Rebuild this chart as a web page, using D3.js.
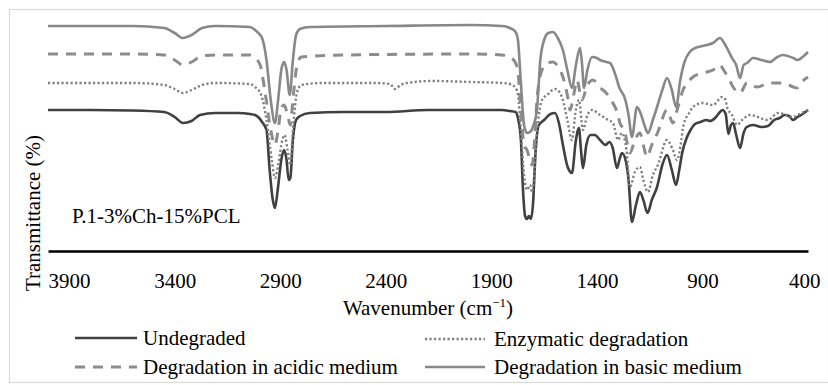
<!DOCTYPE html>
<html>
<head>
<meta charset="utf-8">
<script src="https://cdn.jsdelivr.net/npm/d3@7"></script>
<style>
  html, body { margin: 0; padding: 0; background: #fff; }
  svg { display: block; }
</style>
</head>
<body>
<svg id="chart" width="828" height="385" font-family="'Liberation Serif', 'DejaVu Serif', serif"></svg>
<script>
// ---------- data (wavenumber cm-1, transmittance in arbitrary offset units) ----------
const xTicks = [3900, 3400, 2900, 2400, 1900, 1400, 900, 400];

const undegraded = [[4000,141],[3800,141],[3600,140.5],[3450,139],[3400,134],[3361,128],[3320,130],[3280,136],[3209,138],[3100,138],[3043,137],[3019,136],[3000,133],[2986,129],[2965,121],[2950,81],[2935,51],[2925,43],[2912,61],[2895,91],[2882,101],[2870,91],[2860,71],[2852,73],[2840,111],[2825,131],[2806,135],[2759,138],[2600,139],[2400,139],[2200,141],[2000,141],[1850,141],[1812,140],[1785,139],[1774,133],[1760,111],[1750,61],[1740,35],[1731,32],[1722,35],[1712,32],[1703,46],[1690,101],[1675,126],[1650,131],[1620,137],[1598,138],[1580,128],[1560,105],[1540,85],[1518,78],[1500,110],[1485,123],[1475,100],[1466,83],[1450,106],[1430,116],[1410,116],[1385,111],[1360,106],[1340,109],[1325,103],[1305,83],[1291,93],[1281,98],[1262,89],[1250,71],[1234,29],[1215,46],[1196,59],[1180,51],[1160,38],[1140,51],[1115,64],[1090,86],[1068,96],[1045,81],[1025,66],[1010,81],[995,99],[975,113],[959,120],[935,127],[910,129],[880,131],[864,130],[840,133],[817,139],[805,141],[790,137],[777,117],[765,126],[755,128],[740,116],[722,103],[705,118],[690,124],[660,126],[620,124],[590,125],[560,131],[535,133],[510,136],[490,135],[470,131],[450,134],[425,137],[400,141]];

const enzymatic = [[4000,168],[3600,168],[3450,166],[3400,162],[3361,158],[3320,161],[3270,166],[3209,168],[3043,167],[3019,164],[2990,156],[2965,131],[2940,91],[2925,73],[2910,86],[2890,111],[2880,116],[2865,101],[2852,86],[2840,121],[2820,159],[2800,166],[2700,168],[2450,168],[2380,167],[2356,162],[2330,166],[2300,168],[2176,170],[2000,169],[1850,168],[1812,167],[1785,163],[1774,156],[1760,121],[1745,76],[1731,61],[1717,66],[1707,59],[1695,81],[1684,116],[1660,151],[1636,156],[1598,162],[1575,158],[1561,151],[1540,131],[1518,111],[1500,141],[1485,151],[1466,121],[1445,136],[1423,141],[1385,136],[1347,131],[1324,128],[1300,111],[1282,118],[1260,101],[1243,64],[1220,79],[1196,84],[1180,71],[1158,59],[1135,76],[1111,86],[1068,111],[1040,101],[1021,91],[1000,111],[992,124],[960,139],[945,144],[900,148],[850,146],[807,154],[790,151],[784,144],[760,136],[736,126],[712,131],[675,136],[590,131],[542,138],[500,136],[471,134],[440,137],[400,141]];

const acidic = [[4000,197],[3600,197],[3450,196],[3400,191],[3361,186],[3320,189],[3270,195],[3209,196],[3043,196],[3019,193],[2995,186],[2970,156],[2945,121],[2925,106],[2910,121],[2895,143],[2882,146],[2865,136],[2852,126],[2840,151],[2820,186],[2800,194],[2600,196],[2000,197],[1850,196],[1812,194],[1785,188],[1774,179],[1760,141],[1745,106],[1731,101],[1717,91],[1707,86],[1695,111],[1684,151],[1660,181],[1636,188],[1608,189],[1580,183],[1561,174],[1540,156],[1527,141],[1510,156],[1494,171],[1480,158],[1471,151],[1445,166],[1418,171],[1385,163],[1371,161],[1324,148],[1300,136],[1291,128],[1270,121],[1243,98],[1220,111],[1196,118],[1180,106],[1163,94],[1140,106],[1111,119],[1068,141],[1040,128],[1020,141],[992,161],[960,171],[945,174],[900,178],[878,179],[850,181],[817,186],[800,181],[779,174],[755,164],[722,158],[689,168],[642,164],[580,168],[518,168],[470,164],[452,163],[430,169],[400,174]];

const basic = [[4000,225],[3600,225],[3450,223],[3400,218],[3361,213],[3320,216],[3270,223],[3209,225],[3043,224],[3019,221],[2995,216],[2986,213],[2965,191],[2945,151],[2925,128],[2910,151],[2895,181],[2882,189],[2870,181],[2855,156],[2840,191],[2825,216],[2806,222],[2759,224],[2400,225],[2000,226],[1850,225],[1812,223],[1785,219],[1774,211],[1760,168],[1745,126],[1731,118],[1717,119],[1700,126],[1684,141],[1668,191],[1650,211],[1630,218],[1608,219],[1585,213],[1561,201],[1540,181],[1518,163],[1500,185],[1480,203],[1470,186],[1461,163],[1445,181],[1423,194],[1400,193],[1385,191],[1355,189],[1338,188],[1309,174],[1295,164],[1265,151],[1250,136],[1234,114],[1210,144],[1190,136],[1175,126],[1158,118],[1135,131],[1115,144],[1090,161],[1068,173],[1045,161],[1025,144],[1005,171],[985,189],[960,199],[935,203],[900,205],[878,206],[850,208],[817,213],[800,209],[779,201],[760,193],[740,186],[722,173],[705,186],[689,188],[660,193],[620,191],[580,189],[545,194],[520,196],[470,193],[450,191],[420,195],[400,199]];

const seriesNames = ["Undegraded", "Enzymatic degradation", "Degradation in acidic medium", "Degradation in basic medium"];
const seriesData = [undegraded, enzymatic, acidic, basic];
const seriesColors = ["#404040", "#808080", "#8c8c8c", "#888888"];
const seriesDash = [null, "2.2 2.3", "10 8", null];
const seriesWidth = [2.6, 2.4, 3, 2.6];

const FONT = "'Liberation Serif', 'DejaVu Serif', serif";
const FS = 21;

// ---------- layout ----------
const svg = d3.select("#chart");
const W = 828, H = 385;
const plot = { left: 48, right: 808, top: 11, bottom: 251 };

svg.append("rect")
  .attr("x", 9.5).attr("y", 9.5)
  .attr("width", W - 9).attr("height", 373)
  .attr("fill", "none").attr("stroke", "#d9d9d9").attr("stroke-width", 1.2);

const x = d3.scaleLinear().domain([4000, 400]).range([plot.left, plot.right]);
const y = d3.scaleLinear().domain([0, 240]).range([plot.bottom, plot.top]);

const line = d3.line()
  .x(d => x(d[0]))
  .y(d => y(d[1]))
  .curve(d3.curveMonotoneX);

const g = svg.append("g");
seriesData.forEach((data, i) => {
  g.append("path")
    .datum(data)
    .attr("d", line)
    .attr("fill", "none")
    .attr("stroke", seriesColors[i])
    .attr("stroke-width", seriesWidth[i])
    .attr("stroke-dasharray", seriesDash[i])
    .attr("stroke-linejoin", "round");
});

// x axis
const axis = d3.axisBottom(x).tickValues(xTicks).tickSize(0).tickPadding(22).tickFormat(d3.format("d"));
const ax = svg.append("g").attr("transform", `translate(0,${plot.bottom})`).call(axis)
  .attr("font-family", FONT).attr("font-size", FS);
ax.select(".domain").attr("stroke", "#000").attr("stroke-width", 2.5);
ax.selectAll(".tick text")
  .style("font-family", FONT)
  .attr("fill", "#000")
  .attr("text-anchor", (d) => d === 400 ? "end" : "middle")
  .attr("dx", (d) => d === 400 ? 12 : 0);

function addText(sel) {
  return sel.append("text").style("font-family", FONT).attr("font-size", FS).attr("fill", "#000");
}

// x axis title
const xt = addText(svg)
  .attr("x", (plot.left + plot.right) / 2)
  .attr("y", 315)
  .attr("text-anchor", "middle");
xt.append("tspan").text("Wavenumber (cm");
xt.append("tspan").attr("font-size", 13).attr("dy", -8).text("\u22121");
xt.append("tspan").attr("dy", 8).text(")");

// y axis title
addText(svg)
  .attr("transform", "translate(40,213) rotate(-90)")
  .attr("text-anchor", "middle")
  .text("Transmittance (%)");

// annotation
addText(svg)
  .attr("x", 72).attr("y", 223)
  .text("P.1-3%Ch-15%PCL");

// legend
const legendPos = [
  { x1: 75, x2: 137, y: 338, tx: 143 },
  { x1: 425, x2: 485, y: 339, tx: 494 },
  { x1: 75, x2: 137, y: 367, tx: 143 },
  { x1: 425, x2: 485, y: 367, tx: 494 }
];
seriesNames.forEach((name, i) => {
  const p = legendPos[i];
  svg.append("line")
    .attr("x1", p.x1).attr("x2", p.x2).attr("y1", p.y).attr("y2", p.y)
    .attr("stroke", seriesColors[i])
    .attr("stroke-width", seriesWidth[i])
    .attr("stroke-dasharray", seriesDash[i]);
  addText(svg)
    .attr("x", p.tx).attr("y", p.y + 7)
    .text(name);
});
</script>
</body>
</html>
